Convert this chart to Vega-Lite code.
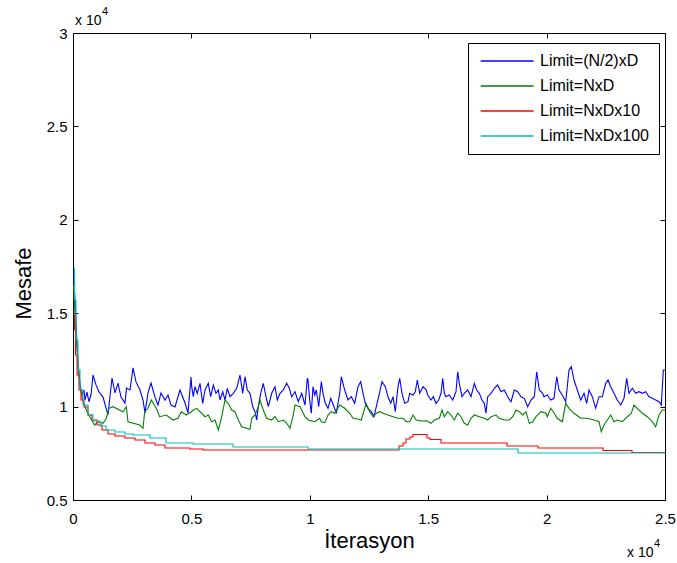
{
"$schema": "https://vega.github.io/schema/vega-lite/v6.json",
"width": 592, "height": 467,
"autosize": {"type": "none"},
"padding": {"left": 73, "top": 33, "right": 12, "bottom": 63},
"background": "white",
"config": {
 "view": {"stroke": "black", "strokeWidth": 1},
 "font": "Liberation Sans",
 "axis": {"grid": false, "domain": false, "tickColor": "black", "tickSize": -5, "tickWidth": 1, "labelColor": "black", "labelFont": "Liberation Sans", "labelFontSize": 15, "titleFont": "Liberation Sans", "titleFontSize": 22, "titleFontWeight": "normal", "titleColor": "black"},
 "legend": {"orient": "none", "legendX": 395, "legendY": 10, "strokeColor": "black", "fillColor": "white", "padding": 10, "symbolType": "M-1,0H9", "symbolSize": 112, "symbolStrokeWidth": 1.3, "labelFont": "Liberation Sans", "labelFontSize": 16, "labelColor": "black", "rowPadding": 9, "labelOffset": 46, "cornerRadius": 0}
},
"datasets": {
 "lines": [
{"limit":"Limit=(N/2)xD","iter":21,"dist":17260},{"limit":"Limit=(N/2)xD","iter":84,"dist":15710},{"limit":"Limit=(N/2)xD","iter":148,"dist":13830},{"limit":"Limit=(N/2)xD","iter":211,"dist":12390},{"limit":"Limit=(N/2)xD","iter":296,"dist":11160},{"limit":"Limit=(N/2)xD","iter":380,"dist":10620},{"limit":"Limit=(N/2)xD","iter":465,"dist":10890},{"limit":"Limit=(N/2)xD","iter":507,"dist":10350},{"limit":"Limit=(N/2)xD","iter":591,"dist":10780},{"limit":"Limit=(N/2)xD","iter":676,"dist":10250},{"limit":"Limit=(N/2)xD","iter":760,"dist":10620},{"limit":"Limit=(N/2)xD","iter":845,"dist":11690},{"limit":"Limit=(N/2)xD","iter":971,"dist":11160},{"limit":"Limit=(N/2)xD","iter":1098,"dist":10780},{"limit":"Limit=(N/2)xD","iter":1267,"dist":10510},{"limit":"Limit=(N/2)xD","iter":1394,"dist":9930},{"limit":"Limit=(N/2)xD","iter":1478,"dist":9550},{"limit":"Limit=(N/2)xD","iter":1647,"dist":11530},{"limit":"Limit=(N/2)xD","iter":1774,"dist":10730},{"limit":"Limit=(N/2)xD","iter":1900,"dist":11260},{"limit":"Limit=(N/2)xD","iter":2027,"dist":10510},{"limit":"Limit=(N/2)xD","iter":2196,"dist":10190},{"limit":"Limit=(N/2)xD","iter":2259,"dist":10990},{"limit":"Limit=(N/2)xD","iter":2407,"dist":10890},{"limit":"Limit=(N/2)xD","iter":2534,"dist":12070},{"limit":"Limit=(N/2)xD","iter":2660,"dist":11320},{"limit":"Limit=(N/2)xD","iter":2829,"dist":10890},{"limit":"Limit=(N/2)xD","iter":2956,"dist":10350},{"limit":"Limit=(N/2)xD","iter":3041,"dist":9660},{"limit":"Limit=(N/2)xD","iter":3167,"dist":10730},{"limit":"Limit=(N/2)xD","iter":3294,"dist":11260},{"limit":"Limit=(N/2)xD","iter":3463,"dist":10510},{"limit":"Limit=(N/2)xD","iter":3590,"dist":10080},{"limit":"Limit=(N/2)xD","iter":3716,"dist":10730},{"limit":"Limit=(N/2)xD","iter":3885,"dist":10350},{"limit":"Limit=(N/2)xD","iter":4012,"dist":10620},{"limit":"Limit=(N/2)xD","iter":4139,"dist":10080},{"limit":"Limit=(N/2)xD","iter":4307,"dist":9980},{"limit":"Limit=(N/2)xD","iter":4519,"dist":10890},{"limit":"Limit=(N/2)xD","iter":4730,"dist":10190},{"limit":"Limit=(N/2)xD","iter":4856,"dist":9660},{"limit":"Limit=(N/2)xD","iter":4983,"dist":11580},
{"limit":"Limit=(N/2)xD","iter":5013,"dist":11065},{"limit":"Limit=(N/2)xD","iter":5080,"dist":10530},{"limit":"Limit=(N/2)xD","iter":5152,"dist":11065},{"limit":"Limit=(N/2)xD","iter":5249,"dist":10712},{"limit":"Limit=(N/2)xD","iter":5363,"dist":11247},{"limit":"Limit=(N/2)xD","iter":5477,"dist":10176},{"limit":"Limit=(N/2)xD","iter":5574,"dist":10888},{"limit":"Limit=(N/2)xD","iter":5714,"dist":11247},{"limit":"Limit=(N/2)xD","iter":5815,"dist":10530},{"limit":"Limit=(N/2)xD","iter":5925,"dist":11156},{"limit":"Limit=(N/2)xD","iter":6039,"dist":10712},{"limit":"Limit=(N/2)xD","iter":6136,"dist":10888},{"limit":"Limit=(N/2)xD","iter":6208,"dist":10353},{"limit":"Limit=(N/2)xD","iter":6322,"dist":10797},{"limit":"Limit=(N/2)xD","iter":6419,"dist":10353},{"limit":"Limit=(N/2)xD","iter":6516,"dist":10979},{"limit":"Limit=(N/2)xD","iter":6630,"dist":10530},{"limit":"Limit=(N/2)xD","iter":6769,"dist":10712},{"limit":"Limit=(N/2)xD","iter":6913,"dist":10979},{"limit":"Limit=(N/2)xD","iter":7052,"dist":11691},{"limit":"Limit=(N/2)xD","iter":7166,"dist":10712},{"limit":"Limit=(N/2)xD","iter":7264,"dist":11600},{"limit":"Limit=(N/2)xD","iter":7361,"dist":10888},{"limit":"Limit=(N/2)xD","iter":7475,"dist":10712},{"limit":"Limit=(N/2)xD","iter":7589,"dist":9994},{"limit":"Limit=(N/2)xD","iter":7686,"dist":9727},{"limit":"Limit=(N/2)xD","iter":7758,"dist":9282},{"limit":"Limit=(N/2)xD","iter":7825,"dist":9994},{"limit":"Limit=(N/2)xD","iter":7927,"dist":10712},{"limit":"Limit=(N/2)xD","iter":8036,"dist":11247},{"limit":"Limit=(N/2)xD","iter":8150,"dist":10530},{"limit":"Limit=(N/2)xD","iter":8248,"dist":9994},{"limit":"Limit=(N/2)xD","iter":8391,"dist":10712},{"limit":"Limit=(N/2)xD","iter":8530,"dist":11065},{"limit":"Limit=(N/2)xD","iter":8628,"dist":10353},{"limit":"Limit=(N/2)xD","iter":8742,"dist":10712},{"limit":"Limit=(N/2)xD","iter":8881,"dist":10888},{"limit":"Limit=(N/2)xD","iter":9025,"dist":11247},{"limit":"Limit=(N/2)xD","iter":9134,"dist":10979},{"limit":"Limit=(N/2)xD","iter":9236,"dist":10530},{"limit":"Limit=(N/2)xD","iter":9375,"dist":10797},{"limit":"Limit=(N/2)xD","iter":9514,"dist":10262},{"limit":"Limit=(N/2)xD","iter":9658,"dist":10712},{"limit":"Limit=(N/2)xD","iter":9797,"dist":10085},{"limit":"Limit=(N/2)xD","iter":9895,"dist":11515},
{"limit":"Limit=(N/2)xD","iter":9924,"dist":11424},{"limit":"Limit=(N/2)xD","iter":9996,"dist":10353},{"limit":"Limit=(N/2)xD","iter":10063,"dist":9641},{"limit":"Limit=(N/2)xD","iter":10135,"dist":11065},{"limit":"Limit=(N/2)xD","iter":10207,"dist":10621},{"limit":"Limit=(N/2)xD","iter":10275,"dist":10888},{"limit":"Limit=(N/2)xD","iter":10376,"dist":9994},{"limit":"Limit=(N/2)xD","iter":10486,"dist":11333},{"limit":"Limit=(N/2)xD","iter":10558,"dist":10712},{"limit":"Limit=(N/2)xD","iter":10655,"dist":10176},{"limit":"Limit=(N/2)xD","iter":10769,"dist":9909},{"limit":"Limit=(N/2)xD","iter":10883,"dist":10444},{"limit":"Limit=(N/2)xD","iter":11022,"dist":9994},{"limit":"Limit=(N/2)xD","iter":11119,"dist":9641},{"limit":"Limit=(N/2)xD","iter":11263,"dist":10712},{"limit":"Limit=(N/2)xD","iter":11330,"dist":11600},{"limit":"Limit=(N/2)xD","iter":11474,"dist":10888},{"limit":"Limit=(N/2)xD","iter":11613,"dist":10353},{"limit":"Limit=(N/2)xD","iter":11753,"dist":10530},{"limit":"Limit=(N/2)xD","iter":11896,"dist":10176},{"limit":"Limit=(N/2)xD","iter":12036,"dist":11065},{"limit":"Limit=(N/2)xD","iter":12149,"dist":11333},{"limit":"Limit=(N/2)xD","iter":12247,"dist":10712},{"limit":"Limit=(N/2)xD","iter":12344,"dist":10176},{"limit":"Limit=(N/2)xD","iter":12458,"dist":9909},{"limit":"Limit=(N/2)xD","iter":12597,"dist":9727},{"limit":"Limit=(N/2)xD","iter":12711,"dist":9459},{"limit":"Limit=(N/2)xD","iter":12808,"dist":9994},{"limit":"Limit=(N/2)xD","iter":12910,"dist":10530},{"limit":"Limit=(N/2)xD","iter":13049,"dist":11333},{"limit":"Limit=(N/2)xD","iter":13189,"dist":11065},{"limit":"Limit=(N/2)xD","iter":13302,"dist":10530},{"limit":"Limit=(N/2)xD","iter":13417,"dist":10176},{"limit":"Limit=(N/2)xD","iter":13514,"dist":10530},{"limit":"Limit=(N/2)xD","iter":13611,"dist":9727},{"limit":"Limit=(N/2)xD","iter":13725,"dist":11065},{"limit":"Limit=(N/2)xD","iter":13797,"dist":11515},{"limit":"Limit=(N/2)xD","iter":13894,"dist":10712},{"limit":"Limit=(N/2)xD","iter":14008,"dist":10176},{"limit":"Limit=(N/2)xD","iter":14147,"dist":10262},{"limit":"Limit=(N/2)xD","iter":14219,"dist":10712},{"limit":"Limit=(N/2)xD","iter":14358,"dist":10621},{"limit":"Limit=(N/2)xD","iter":14455,"dist":10797},{"limit":"Limit=(N/2)xD","iter":14540,"dist":11424},{"limit":"Limit=(N/2)xD","iter":14641,"dist":10712},{"limit":"Limit=(N/2)xD","iter":14781,"dist":11065},{"limit":"Limit=(N/2)xD","iter":14920,"dist":10888},
{"limit":"Limit=(N/2)xD","iter":14979,"dist":10621},{"limit":"Limit=(N/2)xD","iter":15118,"dist":10353},{"limit":"Limit=(N/2)xD","iter":15216,"dist":10530},{"limit":"Limit=(N/2)xD","iter":15329,"dist":10176},{"limit":"Limit=(N/2)xD","iter":15443,"dist":10353},{"limit":"Limit=(N/2)xD","iter":15541,"dist":10712},{"limit":"Limit=(N/2)xD","iter":15612,"dist":11515},{"limit":"Limit=(N/2)xD","iter":15680,"dist":10712},{"limit":"Limit=(N/2)xD","iter":15752,"dist":10530},{"limit":"Limit=(N/2)xD","iter":15891,"dist":10621},{"limit":"Limit=(N/2)xD","iter":16035,"dist":10353},{"limit":"Limit=(N/2)xD","iter":16174,"dist":10797},{"limit":"Limit=(N/2)xD","iter":16246,"dist":11868},{"limit":"Limit=(N/2)xD","iter":16314,"dist":11247},{"limit":"Limit=(N/2)xD","iter":16427,"dist":10530},{"limit":"Limit=(N/2)xD","iter":16525,"dist":10712},{"limit":"Limit=(N/2)xD","iter":16668,"dist":10888},{"limit":"Limit=(N/2)xD","iter":16808,"dist":10530},{"limit":"Limit=(N/2)xD","iter":16947,"dist":11247},{"limit":"Limit=(N/2)xD","iter":17048,"dist":10888},{"limit":"Limit=(N/2)xD","iter":17158,"dist":10712},{"limit":"Limit=(N/2)xD","iter":17272,"dist":10353},{"limit":"Limit=(N/2)xD","iter":17369,"dist":10176},{"limit":"Limit=(N/2)xD","iter":17441,"dist":9641},{"limit":"Limit=(N/2)xD","iter":17513,"dist":10530},{"limit":"Limit=(N/2)xD","iter":17652,"dist":10712},{"limit":"Limit=(N/2)xD","iter":17791,"dist":10979},{"limit":"Limit=(N/2)xD","iter":17935,"dist":11156},{"limit":"Limit=(N/2)xD","iter":18074,"dist":10797},{"limit":"Limit=(N/2)xD","iter":18214,"dist":10888},{"limit":"Limit=(N/2)xD","iter":18357,"dist":10530},{"limit":"Limit=(N/2)xD","iter":18497,"dist":10262},{"limit":"Limit=(N/2)xD","iter":18636,"dist":10888},{"limit":"Limit=(N/2)xD","iter":18780,"dist":10797},{"limit":"Limit=(N/2)xD","iter":18919,"dist":10530},{"limit":"Limit=(N/2)xD","iter":19058,"dist":10444},{"limit":"Limit=(N/2)xD","iter":19202,"dist":9994},{"limit":"Limit=(N/2)xD","iter":19341,"dist":10353},{"limit":"Limit=(N/2)xD","iter":19481,"dist":10530},{"limit":"Limit=(N/2)xD","iter":19582,"dist":11868},{"limit":"Limit=(N/2)xD","iter":19692,"dist":10888},{"limit":"Limit=(N/2)xD","iter":19835,"dist":10712},
{"limit":"Limit=(N/2)xD","iter":19890,"dist":10530},{"limit":"Limit=(N/2)xD","iter":20030,"dist":10621},{"limit":"Limit=(N/2)xD","iter":20173,"dist":10353},{"limit":"Limit=(N/2)xD","iter":20313,"dist":10444},{"limit":"Limit=(N/2)xD","iter":20427,"dist":11600},{"limit":"Limit=(N/2)xD","iter":20524,"dist":10888},{"limit":"Limit=(N/2)xD","iter":20663,"dist":10621},{"limit":"Limit=(N/2)xD","iter":20807,"dist":10262},{"limit":"Limit=(N/2)xD","iter":20946,"dist":11959},{"limit":"Limit=(N/2)xD","iter":21044,"dist":12135},{"limit":"Limit=(N/2)xD","iter":21157,"dist":11424},{"limit":"Limit=(N/2)xD","iter":21297,"dist":10888},{"limit":"Limit=(N/2)xD","iter":21440,"dist":10353},{"limit":"Limit=(N/2)xD","iter":21580,"dist":10712},{"limit":"Limit=(N/2)xD","iter":21693,"dist":10176},{"limit":"Limit=(N/2)xD","iter":21791,"dist":10888},{"limit":"Limit=(N/2)xD","iter":21930,"dist":10530},{"limit":"Limit=(N/2)xD","iter":22074,"dist":9909},{"limit":"Limit=(N/2)xD","iter":22213,"dist":10530},{"limit":"Limit=(N/2)xD","iter":22352,"dist":10530},{"limit":"Limit=(N/2)xD","iter":22496,"dist":11247},{"limit":"Limit=(N/2)xD","iter":22593,"dist":11424},{"limit":"Limit=(N/2)xD","iter":22707,"dist":11065},{"limit":"Limit=(N/2)xD","iter":22846,"dist":10712},{"limit":"Limit=(N/2)xD","iter":22986,"dist":10353},{"limit":"Limit=(N/2)xD","iter":23129,"dist":10085},{"limit":"Limit=(N/2)xD","iter":23269,"dist":10444},{"limit":"Limit=(N/2)xD","iter":23383,"dist":11515},{"limit":"Limit=(N/2)xD","iter":23480,"dist":10712},{"limit":"Limit=(N/2)xD","iter":23619,"dist":10979},{"limit":"Limit=(N/2)xD","iter":23763,"dist":10712},{"limit":"Limit=(N/2)xD","iter":23902,"dist":10797},{"limit":"Limit=(N/2)xD","iter":24042,"dist":10712},{"limit":"Limit=(N/2)xD","iter":24185,"dist":10797},{"limit":"Limit=(N/2)xD","iter":24324,"dist":10530},{"limit":"Limit=(N/2)xD","iter":24464,"dist":10444},{"limit":"Limit=(N/2)xD","iter":24607,"dist":10353},{"limit":"Limit=(N/2)xD","iter":24747,"dist":10262},{"limit":"Limit=(N/2)xD","iter":24844,"dist":10085},{"limit":"Limit=(N/2)xD","iter":24929,"dist":11959},{"limit":"Limit=(N/2)xD","iter":25000,"dist":11959},
{"limit":"Limit=NxD","iter":21,"dist":16509},{"limit":"Limit=NxD","iter":127,"dist":14100},{"limit":"Limit=NxD","iter":211,"dist":12227},{"limit":"Limit=NxD","iter":296,"dist":11156},{"limit":"Limit=NxD","iter":422,"dist":10262},{"limit":"Limit=NxD","iter":562,"dist":9818},{"limit":"Limit=NxD","iter":705,"dist":9459},{"limit":"Limit=NxD","iter":916,"dist":9015},{"limit":"Limit=NxD","iter":1056,"dist":9191},{"limit":"Limit=NxD","iter":1267,"dist":9106},{"limit":"Limit=NxD","iter":1406,"dist":9373},{"limit":"Limit=NxD","iter":1520,"dist":9909},{"limit":"Limit=NxD","iter":1689,"dist":9994},{"limit":"Limit=NxD","iter":2112,"dist":9727},{"limit":"Limit=NxD","iter":2251,"dist":9994},{"limit":"Limit=NxD","iter":2323,"dist":9191},{"limit":"Limit=NxD","iter":2817,"dist":9015},{"limit":"Limit=NxD","iter":2956,"dist":8838},{"limit":"Limit=NxD","iter":3028,"dist":9727},{"limit":"Limit=NxD","iter":3167,"dist":9909},{"limit":"Limit=NxD","iter":3307,"dist":10353},{"limit":"Limit=NxD","iter":3518,"dist":9909},{"limit":"Limit=NxD","iter":3661,"dist":9459},{"limit":"Limit=NxD","iter":3940,"dist":9550},{"limit":"Limit=NxD","iter":4223,"dist":9282},{"limit":"Limit=NxD","iter":4434,"dist":9373},{"limit":"Limit=NxD","iter":4574,"dist":9727},{"limit":"Limit=NxD","iter":4785,"dist":9550},{"limit":"Limit=NxD","iter":4996,"dist":9727},
{"limit":"Limit=NxD","iter":5080,"dist":9818},{"limit":"Limit=NxD","iter":5224,"dist":9909},{"limit":"Limit=NxD","iter":5363,"dist":9727},{"limit":"Limit=NxD","iter":5574,"dist":9459},{"limit":"Limit=NxD","iter":5714,"dist":9550},{"limit":"Limit=NxD","iter":5857,"dist":9191},{"limit":"Limit=NxD","iter":5997,"dist":9282},{"limit":"Limit=NxD","iter":6136,"dist":8747},{"limit":"Limit=NxD","iter":6280,"dist":9459},{"limit":"Limit=NxD","iter":6419,"dist":10353},{"limit":"Limit=NxD","iter":6558,"dist":10176},{"limit":"Limit=NxD","iter":6702,"dist":9818},{"limit":"Limit=NxD","iter":6841,"dist":9727},{"limit":"Limit=NxD","iter":6981,"dist":9282},{"limit":"Limit=NxD","iter":7124,"dist":8924},{"limit":"Limit=NxD","iter":7475,"dist":8785},{"limit":"Limit=NxD","iter":7546,"dist":9373},{"limit":"Limit=NxD","iter":7686,"dist":9550},{"limit":"Limit=NxD","iter":7825,"dist":9994},{"limit":"Limit=NxD","iter":7897,"dist":10353},{"limit":"Limit=NxD","iter":8036,"dist":9818},{"limit":"Limit=NxD","iter":8180,"dist":9373},{"limit":"Limit=NxD","iter":8391,"dist":9282},{"limit":"Limit=NxD","iter":8530,"dist":9459},{"limit":"Limit=NxD","iter":8670,"dist":9191},{"limit":"Limit=NxD","iter":8881,"dist":9282},{"limit":"Limit=NxD","iter":9025,"dist":9106},{"limit":"Limit=NxD","iter":9164,"dist":8838},{"limit":"Limit=NxD","iter":9303,"dist":9550},{"limit":"Limit=NxD","iter":9375,"dist":10085},{"limit":"Limit=NxD","iter":9586,"dist":9994},{"limit":"Limit=NxD","iter":9797,"dist":9459},{"limit":"Limit=NxD","iter":9937,"dist":9282},
{"limit":"Limit=NxD","iter":10207,"dist":9191},{"limit":"Limit=NxD","iter":10418,"dist":9373},{"limit":"Limit=NxD","iter":10486,"dist":9191},{"limit":"Limit=NxD","iter":10629,"dist":9138},{"limit":"Limit=NxD","iter":10769,"dist":9550},{"limit":"Limit=NxD","iter":10908,"dist":9727},{"limit":"Limit=NxD","iter":11052,"dist":9641},{"limit":"Limit=NxD","iter":11263,"dist":10085},{"limit":"Limit=NxD","iter":11474,"dist":9909},{"limit":"Limit=NxD","iter":11685,"dist":9641},{"limit":"Limit=NxD","iter":11824,"dist":9373},{"limit":"Limit=NxD","iter":12036,"dist":9336},{"limit":"Limit=NxD","iter":12175,"dist":9282},{"limit":"Limit=NxD","iter":12318,"dist":9909},{"limit":"Limit=NxD","iter":12386,"dist":10139},{"limit":"Limit=NxD","iter":12530,"dist":9727},{"limit":"Limit=NxD","iter":12669,"dist":9459},{"limit":"Limit=NxD","iter":12808,"dist":9641},{"limit":"Limit=NxD","iter":12952,"dist":9727},{"limit":"Limit=NxD","iter":13091,"dist":9641},{"limit":"Limit=NxD","iter":13302,"dist":9550},{"limit":"Limit=NxD","iter":13514,"dist":9459},{"limit":"Limit=NxD","iter":13725,"dist":9373},{"limit":"Limit=NxD","iter":13936,"dist":9373},{"limit":"Limit=NxD","iter":14075,"dist":9191},{"limit":"Limit=NxD","iter":14219,"dist":9191},{"limit":"Limit=NxD","iter":14358,"dist":9550},{"limit":"Limit=NxD","iter":14498,"dist":9282},{"limit":"Limit=NxD","iter":14709,"dist":9229},{"limit":"Limit=NxD","iter":14920,"dist":9245},
{"limit":"Limit=NxD","iter":15118,"dist":9106},{"limit":"Limit=NxD","iter":15258,"dist":9282},{"limit":"Limit=NxD","iter":15469,"dist":9373},{"limit":"Limit=NxD","iter":15583,"dist":9818},{"limit":"Limit=NxD","iter":15680,"dist":9459},{"limit":"Limit=NxD","iter":15824,"dist":9727},{"limit":"Limit=NxD","iter":15963,"dist":9550},{"limit":"Limit=NxD","iter":16102,"dist":9282},{"limit":"Limit=NxD","iter":16246,"dist":9641},{"limit":"Limit=NxD","iter":16385,"dist":9459},{"limit":"Limit=NxD","iter":16525,"dist":9106},{"limit":"Limit=NxD","iter":16668,"dist":9015},{"limit":"Limit=NxD","iter":16808,"dist":9373},{"limit":"Limit=NxD","iter":16947,"dist":9550},{"limit":"Limit=NxD","iter":17158,"dist":9459},{"limit":"Limit=NxD","iter":17369,"dist":9373},{"limit":"Limit=NxD","iter":17513,"dist":9282},{"limit":"Limit=NxD","iter":17652,"dist":9459},{"limit":"Limit=NxD","iter":17863,"dist":9550},{"limit":"Limit=NxD","iter":18003,"dist":9373},{"limit":"Limit=NxD","iter":18214,"dist":9282},{"limit":"Limit=NxD","iter":18425,"dist":9282},{"limit":"Limit=NxD","iter":18569,"dist":9459},{"limit":"Limit=NxD","iter":18708,"dist":9818},{"limit":"Limit=NxD","iter":18847,"dist":9727},{"limit":"Limit=NxD","iter":18991,"dist":9550},{"limit":"Limit=NxD","iter":19130,"dist":9727},{"limit":"Limit=NxD","iter":19270,"dist":9106},{"limit":"Limit=NxD","iter":19413,"dist":9191},{"limit":"Limit=NxD","iter":19552,"dist":9459},{"limit":"Limit=NxD","iter":19764,"dist":9727},{"limit":"Limit=NxD","iter":19974,"dist":9641},
{"limit":"Limit=NxD","iter":20030,"dist":9459},{"limit":"Limit=NxD","iter":20173,"dist":9909},{"limit":"Limit=NxD","iter":20283,"dist":9727},{"limit":"Limit=NxD","iter":20452,"dist":9373},{"limit":"Limit=NxD","iter":20663,"dist":9191},{"limit":"Limit=NxD","iter":20807,"dist":10176},{"limit":"Limit=NxD","iter":20946,"dist":9909},{"limit":"Limit=NxD","iter":21157,"dist":9641},{"limit":"Limit=NxD","iter":21440,"dist":9373},{"limit":"Limit=NxD","iter":21719,"dist":9373},{"limit":"Limit=NxD","iter":22002,"dist":9282},{"limit":"Limit=NxD","iter":22213,"dist":9191},{"limit":"Limit=NxD","iter":22310,"dist":8656},{"limit":"Limit=NxD","iter":22424,"dist":9015},{"limit":"Limit=NxD","iter":22563,"dist":9282},{"limit":"Limit=NxD","iter":22707,"dist":9550},{"limit":"Limit=NxD","iter":22846,"dist":9191},{"limit":"Limit=NxD","iter":22986,"dist":9282},{"limit":"Limit=NxD","iter":23197,"dist":9191},{"limit":"Limit=NxD","iter":23408,"dist":9459},{"limit":"Limit=NxD","iter":23577,"dist":9641},{"limit":"Limit=NxD","iter":23691,"dist":10085},{"limit":"Limit=NxD","iter":23831,"dist":9909},{"limit":"Limit=NxD","iter":24042,"dist":9641},{"limit":"Limit=NxD","iter":24253,"dist":9459},{"limit":"Limit=NxD","iter":24464,"dist":9191},{"limit":"Limit=NxD","iter":24607,"dist":8924},{"limit":"Limit=NxD","iter":24747,"dist":9550},{"limit":"Limit=NxD","iter":24886,"dist":9818},{"limit":"Limit=NxD","iter":25000,"dist":9818},
{"limit":"Limit=NxDx10","iter":21,"dist":14900},{"limit":"Limit=NxDx10","iter":63,"dist":14100},{"limit":"Limit=NxDx10","iter":106,"dist":12762},{"limit":"Limit=NxDx10","iter":169,"dist":11691},{"limit":"Limit=NxDx10","iter":253,"dist":10888},{"limit":"Limit=NxDx10","iter":338,"dist":10353},{"limit":"Limit=NxDx10","iter":465,"dist":9978},{"limit":"Limit=NxDx10","iter":633,"dist":9550},{"limit":"Limit=NxDx10","iter":802,"dist":9282},{"limit":"Limit=NxDx10","iter":1014,"dist":9015},{"limit":"Limit=NxDx10","iter":1225,"dist":8747},{"limit":"Limit=NxDx10","iter":1478,"dist":8533},{"limit":"Limit=NxDx10","iter":1774,"dist":8426},{"limit":"Limit=NxDx10","iter":2196,"dist":8319},{"limit":"Limit=NxDx10","iter":2618,"dist":8212},{"limit":"Limit=NxDx10","iter":3041,"dist":8051},{"limit":"Limit=NxDx10","iter":3463,"dist":7944},{"limit":"Limit=NxDx10","iter":3885,"dist":7784},{"limit":"Limit=NxDx10","iter":4941,"dist":7730},{"limit":"Limit=NxDx10","iter":5490,"dist":7677},{"limit":"Limit=NxDx10","iter":13767,"dist":7891},{"limit":"Limit=NxDx10","iter":13936,"dist":8051},{"limit":"Limit=NxDx10","iter":14062,"dist":8265},{"limit":"Limit=NxDx10","iter":14231,"dist":8372},{"limit":"Limit=NxDx10","iter":14358,"dist":8506},{"limit":"Limit=NxDx10","iter":14949,"dist":8319},{"limit":"Limit=NxDx10","iter":15076,"dist":8239},{"limit":"Limit=NxDx10","iter":15541,"dist":8051},{"limit":"Limit=NxDx10","iter":18328,"dist":7891},{"limit":"Limit=NxDx10","iter":19637,"dist":7784},{"limit":"Limit=NxDx10","iter":22382,"dist":7650},{"limit":"Limit=NxDx10","iter":23607,"dist":7543},{"limit":"Limit=NxDx10","iter":25000,"dist":7543},
{"limit":"Limit=NxDx100","iter":21,"dist":17419},{"limit":"Limit=NxDx100","iter":63,"dist":15706},{"limit":"Limit=NxDx100","iter":127,"dist":13565},{"limit":"Limit=NxDx100","iter":211,"dist":11959},{"limit":"Limit=NxDx100","iter":296,"dist":10888},{"limit":"Limit=NxDx100","iter":422,"dist":10085},{"limit":"Limit=NxDx100","iter":633,"dist":9550},{"limit":"Limit=NxDx100","iter":845,"dist":9229},{"limit":"Limit=NxDx100","iter":1140,"dist":8961},{"limit":"Limit=NxDx100","iter":1394,"dist":8747},{"limit":"Limit=NxDx100","iter":1774,"dist":8640},{"limit":"Limit=NxDx100","iter":2196,"dist":8533},{"limit":"Limit=NxDx100","iter":2534,"dist":8479},{"limit":"Limit=NxDx100","iter":3252,"dist":8319},{"limit":"Limit=NxDx100","iter":3927,"dist":8051},{"limit":"Limit=NxDx100","iter":5068,"dist":7998},{"limit":"Limit=NxDx100","iter":6757,"dist":7837},{"limit":"Limit=NxDx100","iter":9924,"dist":7730},{"limit":"Limit=NxDx100","iter":18793,"dist":7516},{"limit":"Limit=NxDx100","iter":25000,"dist":7462}
 ]
},
"resolve": {"axis": {"x": "independent", "y": "independent"}},
"layer": [
 {
  "data": {"name": "lines"},
  "transform": [{"filter": "datum.limit == 'Limit=(N/2)xD' || datum.limit == 'Limit=NxD'"}],
  "mark": {"type": "line", "strokeWidth": 1.1, "interpolate": "linear"},
  "encoding": {
   "x": {"field": "iter", "type": "quantitative", "scale": {"domain": [0, 25000], "nice": false, "zero": false},
         "axis": {"orient": "bottom", "title": "İterasyon", "values": [0, 5000, 10000, 15000, 20000, 25000], "labelExpr": "'' + datum.value / 10000", "labelPadding": 16, "titlePadding": 4, "labelFlush": false}},
   "y": {"field": "dist", "type": "quantitative", "scale": {"domain": [5000, 30000], "nice": false, "zero": false},
         "axis": {"orient": "left", "title": "Mesafe", "values": [5000, 10000, 15000, 20000, 25000, 30000], "labelExpr": "'' + datum.value / 10000", "labelPadding": 11, "titlePadding": 11, "titleY": 250, "labelFlush": false}},
   "color": {"field": "limit", "type": "nominal",
             "scale": {"domain": ["Limit=(N/2)xD", "Limit=NxD", "Limit=NxDx10", "Limit=NxDx100"], "range": ["#0000ff", "#008000", "#ff0000", "#00bfbf"]},
             "legend": {"title": null}}
  }
 },
 {
  "data": {"name": "lines"},
  "transform": [{"filter": "datum.limit == 'Limit=NxDx10' || datum.limit == 'Limit=NxDx100'"}],
  "mark": {"type": "line", "strokeWidth": 1.1, "interpolate": "step-after"},
  "encoding": {
   "x": {"field": "iter", "type": "quantitative", "axis": null},
   "y": {"field": "dist", "type": "quantitative", "axis": null},
   "color": {"field": "limit", "type": "nominal", "legend": {"title": null}}
  }
 },
 {
  "data": {"name": "lines"},
  "mark": {"type": "point", "opacity": 0},
  "encoding": {
   "x": {"field": "iter", "type": "quantitative", "axis": {"orient": "top", "title": null, "labels": false, "values": [0, 5000, 10000, 15000, 20000, 25000]}},
   "y": {"field": "dist", "type": "quantitative", "axis": {"orient": "right", "title": null, "labels": false, "values": [5000, 10000, 15000, 20000, 25000, 30000]}}
  }
 },
 {
  "data": {"values": [{}]},
  "mark": {"type": "text", "text": "x 10", "align": "left", "baseline": "alphabetic", "dx": 2, "dy": -8, "fontSize": 14, "font": "Liberation Sans", "color": "black"},
  "encoding": {"x": {"datum": 0, "type": "quantitative", "axis": null}, "y": {"datum": 30000, "type": "quantitative", "axis": null}}
 },
 {
  "data": {"values": [{}]},
  "mark": {"type": "text", "text": "4", "align": "left", "baseline": "alphabetic", "dx": 29, "dy": -18, "fontSize": 11, "font": "Liberation Sans", "color": "black"},
  "encoding": {"x": {"datum": 0, "type": "quantitative", "axis": null}, "y": {"datum": 30000, "type": "quantitative", "axis": null}}
 },
 {
  "data": {"values": [{}]},
  "mark": {"type": "text", "text": "x 10", "align": "left", "baseline": "alphabetic", "dx": -38, "dy": 57, "fontSize": 14, "font": "Liberation Sans", "color": "black"},
  "encoding": {"x": {"datum": 25000, "type": "quantitative", "axis": null}, "y": {"datum": 5000, "type": "quantitative", "axis": null}}
 },
 {
  "data": {"values": [{}]},
  "mark": {"type": "text", "text": "4", "align": "left", "baseline": "alphabetic", "dx": -11, "dy": 47, "fontSize": 11, "font": "Liberation Sans", "color": "black"},
  "encoding": {"x": {"datum": 25000, "type": "quantitative", "axis": null}, "y": {"datum": 5000, "type": "quantitative", "axis": null}}
 }
]
}
